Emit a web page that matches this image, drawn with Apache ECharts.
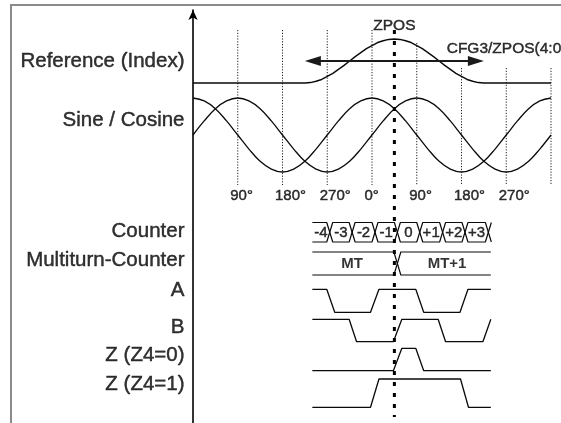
<!DOCTYPE html>
<html>
<head>
<meta charset="utf-8">
<script src="https://cdn.jsdelivr.net/npm/echarts@6/dist/echarts.min.js"></script>
<style>
html,body{margin:0;padding:0;background:#fff;}
#chart{width:561px;height:423px;}
</style>
</head>
<body>
<div id="chart"></div>
<script>
// ---------------- DATA (degrees of electrical angle, levels) ----------------
const rowLabels = ['Reference (Index)', 'Sine / Cosine', 'Counter', 'Multiturn-Counter', 'A', 'B', 'Z (Z4=0)', 'Z (Z4=1)'];

// Reference (index) pulse: angle and normalised level (read every 11.25 deg over the hump)
const refDeg   = [0, 225, 236.25, 247.5, 258.75, 270, 281.25, 292.5, 303.75, 315, 326.25, 337.5, 348.75, 360, 371.25, 382.5, 393.75, 405,
                  416.25, 427.5, 438.75, 450, 461.25, 472.5, 483.75, 495, 506.25, 517.5, 528.75, 540, 551.25, 562.5, 573.75, 585, 720];
const refLevel = [0, 0, 0.01, 0.04, 0.08, 0.15, 0.22, 0.31, 0.40, 0.5, 0.60, 0.69, 0.78, 0.85, 0.92, 0.96, 0.99, 1,
                  0.99, 0.96, 0.92, 0.85, 0.78, 0.69, 0.60, 0.5, 0.40, 0.31, 0.22, 0.15, 0.08, 0.04, 0.01, 0, 0];

// Sine / cosine sampled every 22.5 degrees from 0 to 720
const scDeg = [0,22.5,45,67.5,90,112.5,135,157.5,180,202.5,225,247.5,270,292.5,315,337.5,360,382.5,405,427.5,450,472.5,495,517.5,540,562.5,585,607.5,630,652.5,675,697.5,720];
const sineVals = [0,0.38,0.71,0.92,1,0.92,0.71,0.38,0,-0.38,-0.71,-0.92,-1,-0.92,-0.71,-0.38,0,0.38,0.71,0.92,1,0.92,0.71,0.38,0,-0.38,-0.71,-0.92,-1,-0.92,-0.71,-0.38,0];
const cosVals  = [1,0.92,0.71,0.38,0,-0.38,-0.71,-0.92,-1,-0.92,-0.71,-0.38,0,0.38,0.71,0.92,1,0.92,0.71,0.38,0,-0.38,-0.71,-0.92,-1,-0.92,-0.71,-0.38,0,0.38,0.71,0.92,1];

// Degree tick labels
const tickDeg    = [90, 180, 270, 360, 450, 540, 630];
const tickLabels = ['90°', '180°', '270°', '0°', '90°', '180°', '270°'];
const gridDeg    = [90, 180, 270, 360, 450, 540, 630, 720];

// Index position
const zposDeg = 405;
const zposLabel = 'ZPOS';
const windowDeg = [225, 585];
const windowLabel = 'CFG3/ZPOS(4:0';

// Counter bus
const counterStart = 240;
const counterEnd = 600;
const counterCross = [275, 320, 366, 411, 456, 502, 547, 594];
const counterLabels = ['-4', '-3', '-2', '-1', '0', '+1', '+2', '+3'];

// Multiturn bus
const mtStart = 240;
const mtEnd = 599;
const mtCross = [411];
const mtLabels = ['MT', 'MT+1'];
const mtLabelDeg = [320, 511];

// Digital signals: [angle, level]
const sigA  = [[240,1],[269,1],[285,0],[357,0],[374,1],[448,1],[464,0],[537,0],[553,1],[599,1]];
const sigB  = [[240,1],[314,1],[329,0],[403,0],[420,1],[493,1],[508,0],[583,0],[599,1]];
const sigZ0 = [[240,0],[403,0],[420,1],[448,1],[464,0],[599,0]];
const sigZ1 = [[240,0],[357,0],[374,1],[538,1],[554,0],[599,0]];

// ---------------- LAYOUT (pixel rows) ----------------
const W = 561, H = 423;
const gridLeft = 193, gridRight = 10, gridTop = 10;
const pxPerDeg = (W - gridLeft - gridRight) / 720;
const V = r => H - r;               // pixel row -> y-axis value
const labelRows = [61, 120, 231.7, 260, 290.7, 327.5, 355, 384];
const labelRightPx = 184.5;
const ref = {base: 83, h: 44};
const sc  = {center: 135, amp: 37};
const tickRow = 195.5;
const gridRowStart = [30, 30, 30, 30, 43, 68, 68, 68];
const gridRowEnd = 185;
const zposRows = [30, 417];
const zposTextRow = 25.5;
const windowRow = 61;
const windowTextRow = 49;
const windowTextLeftPx = 446.7;
const counterRows = {top: 222.5, bot: 242, h: 6, text: 232.5};
const mtRows = {top: 252, bot: 275, h: 7, text: 263.5};
const sigRows = {
  A:  {base: 312.3, h: 23},
  B:  {base: 341.7, h: 22.4},
  Z0: {base: 370.7, h: 22.4},
  Z1: {base: 407.3, h: 28.3}
};
const ink = '#0a0a0a';
const FONT = 'Liberation Sans, Arial, Helvetica, sans-serif';

// ---------------- BUILD ----------------
const series = [];
function line(data, extra) {
  return Object.assign({
    type: 'line', data: data, symbol: 'none', silent: true, animation: false,
    lineStyle: {color: ink, width: 1.3}, clip: false, z: 3
  }, extra || {});
}

// vertical dotted angle lines
gridDeg.forEach((d, i) => {
  series.push(line([[d, V(gridRowStart[i])], [d, V(gridRowEnd)]],
    {lineStyle: {color: '#222', width: 1, type: [1.2, 1.6]}, z: 1}));
});

// reference pulse
series.push(line(refDeg.map((d, i) => [d, V(ref.base - refLevel[i] * ref.h)]),
  {lineStyle: {color: ink, width: 1.4}}));

// sine & cosine
series.push(line(scDeg.map((d, i) => [d, V(sc.center - sineVals[i] * sc.amp)]), {smooth: 0.4}));
series.push(line(scDeg.map((d, i) => [d, V(sc.center - cosVals[i] * sc.amp)]), {smooth: 0.4}));

// bus helper
function bus(start, end, crossings, rows) {
  const lv = s => V(s ? rows.top : rows.bot);
  let p1 = [[start, lv(1)]], p2 = [[start, lv(0)]], s = 1;
  crossings.forEach(c => {
    p1.push([c - rows.h, lv(s)], [c + rows.h, lv(1 - s)]);
    p2.push([c - rows.h, lv(1 - s)], [c + rows.h, lv(s)]);
    s = 1 - s;
  });
  const last = crossings[crossings.length - 1] + rows.h;
  if (end > last) { p1.push([end, lv(s)]); p2.push([end, lv(1 - s)]); }
  series.push(line(p1, {lineStyle: {color: ink, width: 1.2}}));
  series.push(line(p2, {lineStyle: {color: ink, width: 1.2}}));
}
bus(counterStart, counterEnd, counterCross, counterRows);
bus(mtStart, mtEnd, mtCross, mtRows);

// digital signals
[[sigA, sigRows.A], [sigB, sigRows.B], [sigZ0, sigRows.Z0], [sigZ1, sigRows.Z1]].forEach(([sig, r]) => {
  series.push(line(sig.map(([d, l]) => [d, V(r.base - l * r.h)]), {lineStyle: {color: ink, width: 1.3}}));
});

// ZPOS thick dotted line
series.push(line([[zposDeg, V(zposRows[0])], [zposDeg, V(zposRows[1])]],
  {lineStyle: {color: '#000', width: 3, type: [4, 7]}, z: 5}));

// window arrow
const halfHead = 8 / pxPerDeg;
series.push({
  type: 'line', data: [], silent: true, animation: false,
  markLine: {
    silent: true, animation: false,
    symbol: ['triangle', 'triangle'], symbolSize: [10, 16],
    label: {show: false},
    lineStyle: {color: '#1a1a1a', width: 2, type: 'solid'},
    data: [[{coord: [windowDeg[0] + halfHead, V(windowRow)]}, {coord: [windowDeg[1] - halfHead, V(windowRow)]}]]
  }
});

// text helper via scatter labels
function texts(items, labelOpt) {
  series.push({
    type: 'scatter', symbolSize: 0, silent: true, animation: false, clip: false, z: 10,
    data: items.map(it => ({value: it.value, name: it.name})),
    label: Object.assign({show: true, position: 'inside', formatter: '{b}', color: '#000',
      fontFamily: FONT, verticalAlign: 'middle', align: 'center',
      textBorderColor: '#000', textBorderWidth: 0.45}, labelOpt)
  });
}
// left row labels
const labelDeg = (labelRightPx - gridLeft) / pxPerDeg;
texts(rowLabels.map((n, i) => ({value: [labelDeg, V(labelRows[i])], name: n})), {align: 'right', fontSize: 20.5});
// degree ticks
texts(tickDeg.map((d, i) => ({value: [d, V(tickRow)], name: tickLabels[i]})), {align: 'left', fontSize: 15, offset: [-7.5, 0]});
// counter values
const bounds = [counterStart].concat(counterCross);
texts(counterLabels.map((n, i) => ({value: [(bounds[i] + bounds[i + 1]) / 2, V(counterRows.text)], name: n})), {fontSize: 15});
// MT labels
texts(mtLabels.map((n, i) => ({value: [mtLabelDeg[i], V(mtRows.text)], name: n})), {fontSize: 15, fontWeight: 'bold', textBorderWidth: 0});
// ZPOS
texts([{value: [zposDeg, V(zposTextRow)], name: zposLabel}], {fontSize: 15.5});
texts([{value: [(windowTextLeftPx - gridLeft) / pxPerDeg, V(windowTextRow)], name: windowLabel}], {fontSize: 15.5, align: 'left'});

const chart = echarts.init(document.getElementById('chart'), null, {renderer: 'canvas'});
chart.setOption({
  backgroundColor: '#fff',
  animation: false,
  grid: {left: gridLeft, right: gridRight, top: gridTop, bottom: 0},
  xAxis: {type: 'value', min: 0, max: 720, show: false},
  yAxis: {
    type: 'value', min: 0, max: H - gridTop,
    axisLine: {show: true, onZero: false, symbol: ['none', 'arrow'], symbolSize: [7, 10],
      lineStyle: {color: '#000', width: 1.6}},
    axisTick: {show: false}, axisLabel: {show: false}, splitLine: {show: false}
  },
  graphic: [{
    type: 'polyline', silent: true,
    shape: {points: [[11, H], [11, 5], [W, 5]]},
    style: {stroke: '#8a8a8a', lineWidth: 2, fill: null}
  }],
  series: series
});
</script>
</body>
</html>
